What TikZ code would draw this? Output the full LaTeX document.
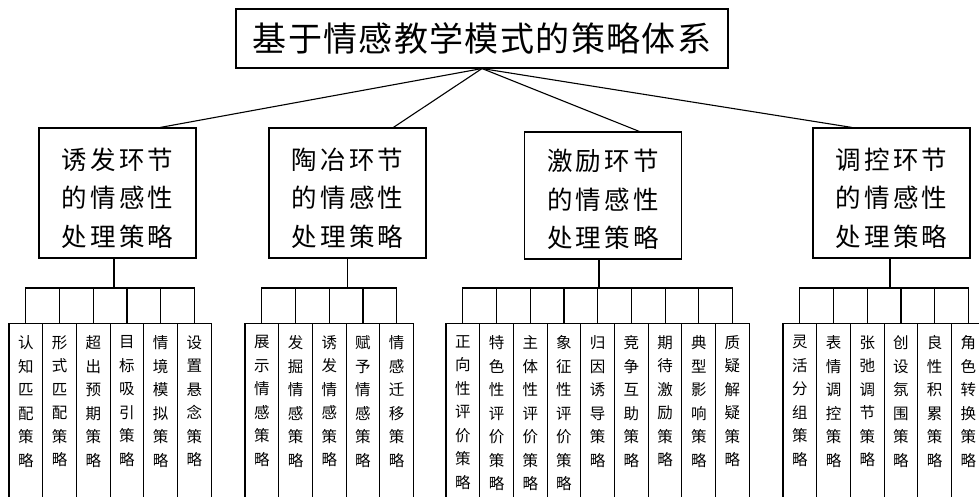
\documentclass[tikz,border=0pt]{standalone}
\usepackage{fontspec}
\usetikzlibrary{calc}
\newfontfamily\cjk{Noto Sans CJK SC}
\newfontfamily\cjkls{Noto Sans CJK SC}[LetterSpace=12]
\newfontfamily\cjkt{Noto Sans CJK SC}[LetterSpace=4]
\newcommand\leafnode[3]{\node[leaf, label={[leaftxt]north:#3}] (#1) at (#2,323) {};}
\begin{document}
\begin{tikzpicture}[x=1pt,y=-1pt, line width=1.1pt,
 titlebox/.style={draw, minimum width=492pt, minimum height=59pt, inner sep=0pt, font=\cjkt\fontsize{34}{40}\selectfont},
 midbox/.style={draw, minimum width=157pt, minimum height=130pt, inner sep=0pt},
 midtxt/.style={inner sep=0pt, align=center, yshift=-5pt, font=\cjkls\fontsize{25.5}{38.5}\selectfont},
 leaf/.style={draw, minimum width=33.7pt, minimum height=200pt, anchor=north, inner sep=0pt},
 leaftxt/.style={anchor=north, inner sep=0pt, align=center, yshift=-12pt, font=\cjk\fontsize{15.5}{23.5}\selectfont},
 conn/.style={draw}
]
\useasboundingbox (0,0) rectangle (979,497);
\clip (0,0) rectangle (979,497);
\fill[white] (0,0) rectangle (979,497);

\node[titlebox] (t) at (482,38.5) {基于情感教学模式的策略体系};

\node[midbox, label={[midtxt]center:诱发环节\\的情感性\\处理策略}] (m1) at (117.5,193) {};
\node[midbox, label={[midtxt]center:陶冶环节\\的情感性\\处理策略}] (m2) at (347.5,193) {};
\node[midbox, minimum height=127pt, label={[midtxt,yshift=1pt]center:激励环节\\的情感性\\处理策略}] (m3) at (603,195.5) {};
\node[midbox, label={[midtxt]center:调控环节\\的情感性\\处理策略}] (m4) at (891.5,193) {};

\draw[conn] (t.south) -- ($(m1.north west)!0.77!(m1.north east)$);
\draw[conn] (t.south) -- ($(m2.north west)!0.79!(m2.north east)$);
\draw[conn] (t.south) -- ($(m3.north west)!0.73!(m3.north east)$);
\draw[conn] (t.south) -- ($(m4.north west)!0.25!(m4.north east)$);

% group 1
\leafnode{a1}{25.85}{认\\知\\匹\\配\\策\\略}
\leafnode{a2}{59.55}{形\\式\\匹\\配\\策\\略}
\leafnode{a3}{93.25}{超\\出\\预\\期\\策\\略}
\leafnode{a4}{126.95}{目\\标\\吸\\引\\策\\略}
\leafnode{a5}{160.65}{情\\境\\模\\拟\\策\\略}
\leafnode{a6}{194.35}{设\\置\\悬\\念\\策\\略}
% group 2
\leafnode{b1}{261.85}{展\\示\\情\\感\\策\\略}
\leafnode{b2}{295.55}{发\\掘\\情\\感\\策\\略}
\leafnode{b3}{329.25}{诱\\发\\情\\感\\策\\略}
\leafnode{b4}{362.95}{赋\\予\\情\\感\\策\\略}
\leafnode{b5}{396.65}{情\\感\\迁\\移\\策\\略}
% group 3
\leafnode{c1}{462.85}{正\\向\\性\\评\\价\\策\\略}
\leafnode{c2}{496.55}{特\\色\\性\\评\\价\\策\\略}
\leafnode{c3}{530.25}{主\\体\\性\\评\\价\\策\\略}
\leafnode{c4}{563.95}{象\\征\\性\\评\\价\\策\\略}
\leafnode{c5}{597.65}{归\\因\\诱\\导\\策\\略}
\leafnode{c6}{631.35}{竞\\争\\互\\助\\策\\略}
\leafnode{c7}{665.05}{期\\待\\激\\励\\策\\略}
\leafnode{c8}{698.75}{典\\型\\影\\响\\策\\略}
\leafnode{c9}{732.45}{质\\疑\\解\\疑\\策\\略}
% group 4
\leafnode{d1}{799.85}{灵\\活\\分\\组\\策\\略}
\leafnode{d2}{833.55}{表\\情\\调\\控\\策\\略}
\leafnode{d3}{867.25}{张\\弛\\调\\节\\策\\略}
\leafnode{d4}{900.95}{创\\设\\氛\\围\\策\\略}
\leafnode{d5}{934.65}{良\\性\\积\\累\\策\\略}
\leafnode{d6}{968.35}{角\\色\\转\\换\\策\\略}

\coordinate (ba) at ($(m1.south)+(-3.5,0)$);
\coordinate (bb) at (m2.south);
\coordinate (bc) at ($(m3.south)+(-4,0)$);
\coordinate (bd) at ($(m4.south)+(-1.5,0)$);
\coordinate (ja) at (ba |- 0,288);
\coordinate (jb) at (bb |- 0,288);
\coordinate (jc) at (bc |- 0,288);
\coordinate (jd) at (bd |- 0,288);
\draw[conn] (ba) -- (ja);
\draw[conn] (bb) -- (jb);
\draw[conn] (bc) -- (jc);
\draw[conn] (bd) -- (jd);
\foreach \n in {a1,a2,a3,a4,a5,a6} \draw[conn] (\n.north) |- (ja);
\foreach \n in {b1,b2,b3,b4,b5} \draw[conn] (\n.north) |- (jb);
\foreach \n in {c1,c2,c3,c4,c5,c6,c7,c8,c9} \draw[conn] (\n.north) |- (jc);
\foreach \n in {d1,d2,d3,d4,d5,d6} \draw[conn] (\n.north) |- (jd);
\end{tikzpicture}
\end{document}
